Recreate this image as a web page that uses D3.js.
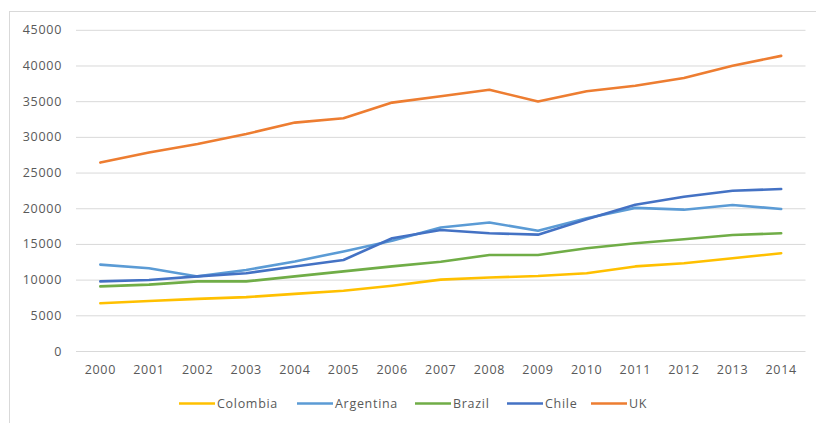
<!DOCTYPE html>
<html><head><meta charset="utf-8">
<script src="https://cdn.jsdelivr.net/npm/d3@7"></script>
<style>body{margin:0;background:#fff}svg{display:block}text{font-family:"Open Sans",sans-serif;letter-spacing:0.7px}</style>
</head><body><svg id="c" width="816" height="423"></svg>
<script>
const years = ["2000","2001","2002","2003","2004","2005","2006","2007","2008","2009","2010","2011","2012","2013","2014"];
const colombia  = [6700,7000,7300,7550,8000,8450,9150,10000,10300,10500,10900,11850,12300,13000,13700];
const argentina = [12100,11600,10450,11350,12550,13950,15450,17300,18000,16850,18600,20050,19800,20450,19900];
const brazil    = [9050,9300,9750,9750,10450,11150,11850,12500,13450,13450,14400,15100,15650,16250,16500];
const chile     = [9750,9950,10450,10900,11850,12750,15800,16950,16500,16300,18450,20500,21600,22450,22700];
const uk        = [26400,27800,29000,30400,32000,32600,34800,35700,36600,34950,36400,37150,38250,39950,41350];
const yTicks = [0,5000,10000,15000,20000,25000,30000,35000,40000,45000];
const seriesNames = ["Colombia","Argentina","Brazil","Chile","UK"];
const seriesColors = ["#FFC000","#5B9BD5","#70AD47","#4472C4","#ED7D31"];
const seriesData = [colombia,argentina,brazil,chile,uk];

const svg = d3.select("#c");
svg.append("rect").attr("x",9.5).attr("y",11.5).attr("width",830).attr("height",430)
  .attr("fill","#fff").attr("stroke","#D9D9D9").attr("stroke-width",1);

const x = d3.scaleBand().domain(years).range([76,805.5]);
const y = d3.scaleLinear().domain([0,45000]).range([351,29.8]);

const gy = svg.append("g").attr("transform","translate(76,0)")
  .call(d3.axisLeft(y).tickValues(yTicks).tickSize(-729.5).tickPadding(14).tickFormat(d3.format("d")));
gy.select(".domain").remove();
gy.selectAll(".tick line").attr("stroke","#D9D9D9").attr("stroke-width",1);
gy.selectAll(".tick text").attr("fill","#595959").style("font-size","12.5px");

const gx = svg.append("g").attr("transform","translate(0,351)")
  .call(d3.axisBottom(x).tickSize(0).tickPadding(14));
gx.select(".domain").remove();
gx.selectAll(".tick text").attr("fill","#595959").style("font-size","12.5px");

const line = d3.line().x((d,i)=>x(years[i])+x.bandwidth()/2).y(d=>y(d));
seriesData.forEach((s,k)=>{
  svg.append("path").datum(s).attr("d",line).attr("fill","none")
    .attr("stroke",seriesColors[k]).attr("stroke-width",2.6)
    .attr("stroke-linejoin","round").attr("stroke-linecap","round");
});

const legX = [179,297,415,507,591];
const lg = svg.append("g");
seriesNames.forEach((n,k)=>{
  lg.append("line").attr("x1",legX[k]).attr("x2",legX[k]+36).attr("y1",403.5).attr("y2",403.5)
    .attr("stroke",seriesColors[k]).attr("stroke-width",2.6);
  lg.append("text").attr("x",legX[k]+38).attr("y",403.5).attr("dy","0.35em")
    .attr("fill","#595959").style("font-size","12.5px").text(n);
});
</script></body></html>
